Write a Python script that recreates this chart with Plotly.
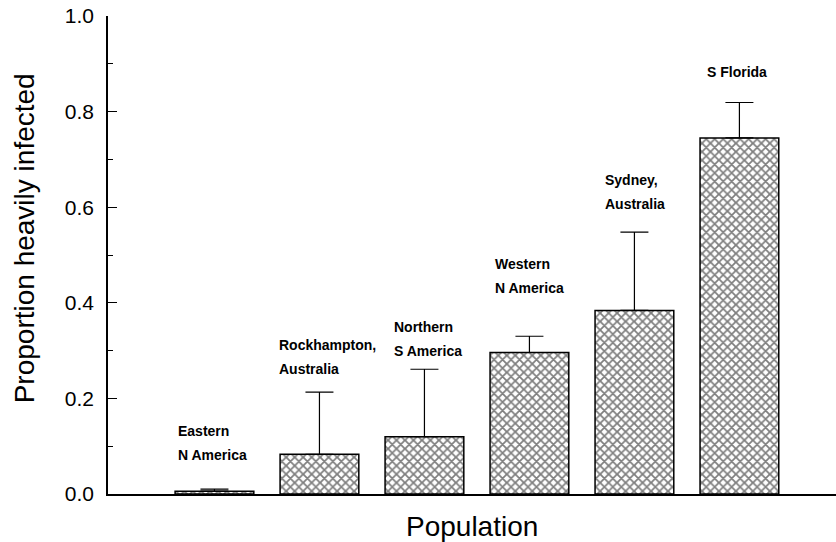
import plotly.graph_objects as go

populations = ["Eastern N America", "Rockhampton, Australia", "Northern S America",
               "Western N America", "Sydney, Australia", "S Florida"]
proportion = [0.006, 0.083, 0.120, 0.296, 0.384, 0.745]
upper = [0.010, 0.213, 0.261, 0.330, 0.548, 0.819]

label_line1 = ["Eastern", "Rockhampton,", "Northern", "Western", "Sydney,", "S Florida"]
label_line2 = ["N America", "Australia", "S America", "N America", "Australia", ""]
label_x = [-0.367, 0.595, 1.690, 2.652, 3.700, 4.671]
label_y = [0.132, 0.312, 0.349, 0.481, 0.657, 0.883]
line_gap = 0.050

xs = list(range(len(populations)))
err_plus = [u - v for u, v in zip(upper, proportion)]

fig = go.Figure()
fig.add_trace(go.Bar(
    x=xs, y=proportion, width=0.75,
    marker=dict(color="white", line=dict(color="black", width=1.5),
                pattern=dict(shape="x", fgcolor="black", bgcolor="white", size=6, solidity=0.5)),
    error_y=dict(type="data", symmetric=False, array=err_plus, arrayminus=[0]*len(xs),
                 color="black", thickness=1.2, width=14),
    hovertext=populations,
))

font_lbl = dict(family="Liberation Sans, Arial, sans-serif", size=14, color="black", weight="bold")
ann = []
for x, y, a, b in zip(label_x, label_y, label_line1, label_line2):
    ann.append(dict(x=x, y=y, xref="x", yref="y", text=a, showarrow=False,
                    xanchor="left", yanchor="middle", font=font_lbl))
    if b:
        ann.append(dict(x=x, y=y - line_gap, xref="x", yref="y", text=b, showarrow=False,
                        xanchor="left", yanchor="middle", font=font_lbl))

title_font = dict(family="Liberation Sans, Arial, sans-serif", size=28, color="black")
ann.append(dict(x=0.5, y=-0.068, xref="paper", yref="paper", text="Population",
                showarrow=False, xanchor="center", yanchor="middle", font=title_font))
ann.append(dict(x=-0.115, y=0.5355, xref="paper", yref="paper", text="Proportion heavily infected",
                showarrow=False, xanchor="center", yanchor="middle", textangle=-90, font=title_font))

fig.update_layout(
    width=836, height=542,
    margin=dict(l=108, r=0, t=16, b=48),
    plot_bgcolor="white", paper_bgcolor="white",
    showlegend=False,
    annotations=ann,
    xaxis=dict(range=[-1.014, 5.92], showline=True, linecolor="black", linewidth=1.5,
               showticklabels=False, ticks="", showgrid=False, zeroline=False),
    yaxis=dict(range=[0, 1.0], showline=True, linecolor="black", linewidth=1.5,
               ticks="inside", ticklen=9, tickcolor="black", tickwidth=1,
               dtick=0.2, tick0=0, tickformat=".1f",
               tickfont=dict(family="Liberation Sans, Arial, sans-serif", size=21, color="black"),
               ticklabelstandoff=8,
               minor=dict(ticks="inside", ticklen=5, dtick=0.1, tickcolor="black", showgrid=False),
               showgrid=False, zeroline=False),
)

fig.write_html("out.html")
